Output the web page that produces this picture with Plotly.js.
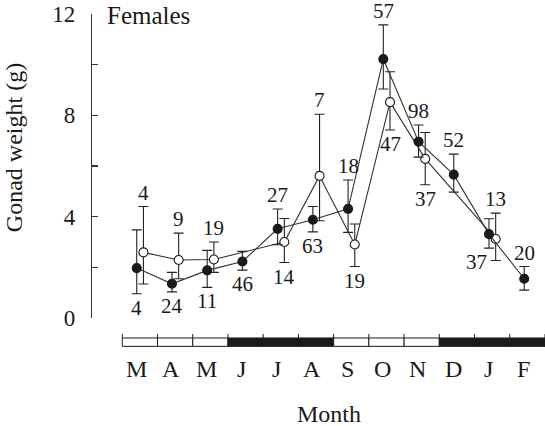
<!DOCTYPE html>
<html>
<head>
<meta charset="utf-8">
<script src="https://cdn.plot.ly/plotly-3.0.1.min.js"></script>
<style>
  html, body { margin: 0; padding: 0; background: #fff; }
  #chart { width: 545px; height: 426px; }
</style>
</head>
<body>
<div id="chart"></div>
<script>
// Monthly gonad weight of females, March to February
const months = ['M', 'A', 'M', 'J', 'J', 'A', 'S', 'O', 'N', 'D', 'J', 'F'];
// 1 = dark segment of the period bar under the axis
const darkPeriod = [0, 0, 0, 1, 1, 1, 0, 0, 0, 1, 1, 1];

// Filled circles: mean with lower / upper interval limits and sample size
const filledMean = [1.97, 1.35, 1.88, 2.23, 3.52, 3.88, 4.31, 10.22, 6.96, 5.66, 3.31, 1.55];
const filledHi   = [3.48, 1.80, 2.67, 2.63, 4.30, 4.40, 5.45, 11.57, 7.62, 6.47, 3.92, 2.03];
const filledLo   = [0.96, 1.03, 1.21, 1.89, 2.89, 3.40, 3.38, 9.04, 6.35, 4.97, 2.76, 1.10];
const filledN    = [4, 24, 11, 46, 27, 63, 18, 57, 98, 52, 37, 20];
const filledSide = ['below', 'below', 'below', 'below', 'above', 'below', 'above', 'above', 'above', 'above', 'below-left', 'above'];

// Open circles
const openMean = [2.59, 2.29, 2.31, null, 3.00, 5.61, 2.90, 8.52, 6.28, null, 3.12, null];
const openHi   = [4.40, 3.35, 3.00, null, 3.93, 8.04, 3.71, 9.72, 7.32, null, 4.14, null];
const openLo   = [1.34, 1.55, 1.80, null, 2.19, 3.84, 2.03, 7.42, 5.26, null, 2.27, null];
const openN    = [4, 9, 19, null, 14, 7, 19, 47, 37, null, 13, null];
const openSide = ['above', 'above', 'above', null, 'below', 'above', 'below', 'below', 'below', null, 'above', null];

const FONT = "'Liberation Serif', 'Times New Roman', serif";
const INK = '#1a1a1a';
const FILLED_DX = -0.09;   // the two series sit side by side within a month
const OPEN_DX = 0.10;

function series(mean, hi, lo, dx, fill) {
  const x = [], y = [], up = [], down = [];
  mean.forEach((m, i) => {
    if (m === null) return;
    x.push(i + dx); y.push(m);
    up.push(hi[i] - m); down.push(m - lo[i]);
  });
  return {
    type: 'scatter', mode: 'lines+markers', x, y,
    line: { color: '#333', width: 1.1 },
    marker: { size: 9, color: fill, line: { color: INK, width: 1.1 } },
    error_y: { type: 'data', symmetric: false, array: up, arrayminus: down,
               color: '#222', thickness: 1.1, width: 5 },
    cliponaxis: false, hoverinfo: 'skip', showlegend: false
  };
}

const traces = [
  series(openMean, openHi, openLo, OPEN_DX, '#ffffff'),
  series(filledMean, filledHi, filledLo, FILLED_DX, INK)
];

// Sample sizes written beyond the end of each interval
const annotations = [];
function addCounts(n, hi, lo, side, dx) {
  n.forEach((v, i) => {
    if (v === null) return;
    const above = side[i] === 'above';
    annotations.push({
      x: i + dx, y: above ? hi[i] : lo[i], xref: 'x', yref: 'y',
      text: String(v), showarrow: false,
      xanchor: 'center', yanchor: above ? 'bottom' : 'top',
      xshift: side[i] === 'below-left' ? -12 : 0,
      font: { family: FONT, size: 21, color: INK }
    });
  });
}
addCounts(filledN, filledHi, filledLo, filledSide, FILLED_DX);
addCounts(openN, openHi, openLo, openSide, OPEN_DX);

// Month initials under the period bar
months.forEach((m, i) => {
  annotations.push({
    text: m, x: i + FILLED_DX - 0.02, y: -0.168, xref: 'x', yref: 'paper',
    xanchor: 'center', yanchor: 'middle', showarrow: false,
    font: { family: FONT, size: 24, color: INK }
  });
});

annotations.push(
  { text: 'Females', xref: 'paper', yref: 'paper', x: 0.0287, y: 1.046,
    xanchor: 'left', yanchor: 'top', showarrow: false,
    font: { family: FONT, size: 25, color: INK } },
  { text: 'Gonad weight (g)', xref: 'paper', yref: 'paper', x: -0.172, y: 0.559,
    xanchor: 'center', yanchor: 'middle', textangle: -90, showarrow: false,
    font: { family: FONT, size: 24, color: INK } },
  { text: 'Month', xref: 'paper', yref: 'paper', x: 0.523, y: -0.315,
    xanchor: 'center', yanchor: 'middle', showarrow: false,
    font: { family: FONT, size: 24, color: INK } }
);

// Period bar below the plot: one box per month plus boundary ticks
const BAR_TOP = -0.0657, BAR_BOT = -0.0933, TICK_TOP = -0.0526;
const shapes = [];
months.forEach((m, i) => {
  shapes.push({
    type: 'rect', xref: 'x', yref: 'paper',
    x0: i - 0.5, x1: i + 0.5, y0: BAR_BOT, y1: BAR_TOP,
    fillcolor: darkPeriod[i] ? INK : '#ffffff',
    line: { color: INK, width: 1 }
  });
});
for (let b = 0; b <= months.length; b++) {
  shapes.push({
    type: 'line', xref: 'x', yref: 'paper',
    x0: b - 0.5, x1: b - 0.5, y0: BAR_TOP, y1: TICK_TOP,
    line: { color: INK, width: 1 }
  });
}

const layout = {
  width: 545, height: 426,
  margin: { l: 92, r: 0, t: 14, b: 108 },
  paper_bgcolor: '#ffffff', plot_bgcolor: '#ffffff',
  font: { family: FONT, color: INK },
  xaxis: {
    range: [-1.36, 11.5], showgrid: false, zeroline: false, showline: false,
    ticks: '', showticklabels: false
  },
  yaxis: {
    range: [0, 12], showgrid: false, zeroline: false,
    showline: true, linecolor: '#333', linewidth: 1.2,
    ticks: 'inside', ticklen: 6, tickcolor: '#333', tickwidth: 1.2,
    tickvals: [0, 2, 4, 6, 8, 10, 12], ticktext: ['0', '', '4', '', '8', '', '12'],
    tickfont: { family: FONT, size: 23, color: INK }, ticklabelstandoff: 11
  },
  shapes, annotations
};

Plotly.newPlot('chart', traces, layout, { displayModeBar: false, staticPlot: true });
</script>
</body>
</html>
